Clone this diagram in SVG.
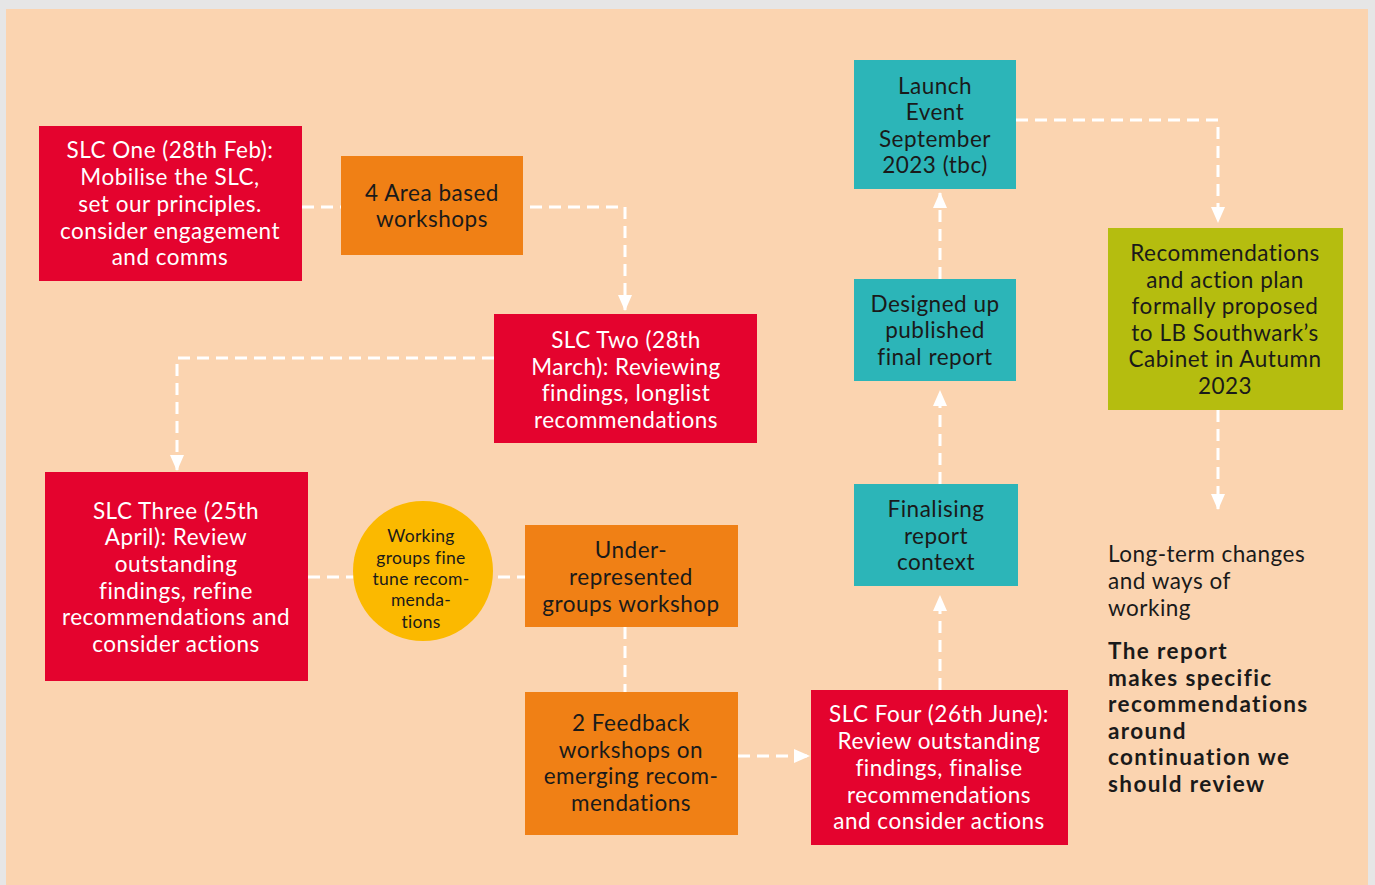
<svg xmlns="http://www.w3.org/2000/svg" width="1375" height="885" viewBox="0 0 1375 885">
<defs>
<style>
.t{font-family:Lato,"Open Sans","Liberation Sans",sans-serif;font-size:22.5px;text-anchor:middle;letter-spacing:0.5px}
.w{fill:#ffffff}
.d{fill:#1a1a1a}
.b{font-weight:bold;letter-spacing:1.4px}
.c{stroke:#ffffff;stroke-width:3;fill:none;stroke-dasharray:12 7}
.red{fill:#e4032e}
.org{fill:#f08015}
.teal{fill:#2cb5b8}
.olv{fill:#b5bd0f}
</style>
<marker id="ah" viewBox="0 0 16 14" refX="15" refY="7" markerWidth="16" markerHeight="14" markerUnits="userSpaceOnUse" orient="auto">
<path d="M0,0 L16,7 L0,14 Z" fill="#ffffff"/>
</marker>
</defs>
<rect x="0" y="0" width="1375" height="885" fill="#e6e6e6"/>
<rect x="6" y="9" width="1362" height="876" fill="#fbd4b0"/>
<g id="connectors">
<path class="c" d="M302,207 H625 V310" marker-end="url(#ah)"/>
<path class="c" d="M494,358 H177 V470" marker-end="url(#ah)"/>
<path class="c" d="M308,577 H525"/>
<path class="c" d="M625,627 V692"/>
<path class="c" d="M738,756 H809" marker-end="url(#ah)"/>
<path class="c" d="M940,690 V596" marker-end="url(#ah)"/>
<path class="c" d="M940,484 V391" marker-end="url(#ah)"/>
<path class="c" d="M940,279 V193" marker-end="url(#ah)"/>
<path class="c" d="M1016,120 H1218 V222" marker-end="url(#ah)"/>
<path class="c" d="M1218,410 V509" marker-end="url(#ah)"/>
</g>
<g id="slc1">
<rect class="red" x="39" y="126" width="263" height="155"/>
<text class="t w"><tspan x="170" y="158">SLC One (28th Feb):</tspan><tspan x="170" y="185">Mobilise the SLC,</tspan><tspan x="170" y="212">set our principles.</tspan><tspan x="170" y="239">consider engagement</tspan><tspan x="170" y="265">and comms</tspan></text>
</g>
<g id="area">
<rect class="org" x="341" y="156" width="182" height="99"/>
<text class="t d"><tspan x="432" y="201">4 Area based</tspan><tspan x="432" y="227">workshops</tspan></text>
</g>
<g id="slc2">
<rect class="red" x="494" y="314" width="263" height="129"/>
<text class="t w"><tspan x="626" y="348">SLC Two (28th</tspan><tspan x="626" y="375">March): Reviewing</tspan><tspan x="626" y="401">findings, longlist</tspan><tspan x="626" y="428">recommendations</tspan></text>
</g>
<g id="slc3">
<rect class="red" x="45" y="472" width="263" height="209"/>
<text class="t w"><tspan x="176" y="519">SLC Three (25th</tspan><tspan x="176" y="545">April): Review</tspan><tspan x="176" y="572">outstanding</tspan><tspan x="176" y="599">findings, refine</tspan><tspan x="176" y="625">recommendations and</tspan><tspan x="176" y="652">consider actions</tspan></text>
</g>
<g id="circle">
<circle cx="423" cy="571" r="70" fill="#fbb900"/>
<text class="t d" style="font-size:17.5px;letter-spacing:0.3px"><tspan x="421" y="542">Working</tspan><tspan x="421" y="564">groups fine</tspan><tspan x="421" y="585">tune recom-</tspan><tspan x="421" y="606">menda-</tspan><tspan x="421" y="628">tions</tspan></text>
</g>
<g id="under">
<rect class="org" x="525" y="525" width="213" height="102"/>
<text class="t d"><tspan x="631" y="558">Under-</tspan><tspan x="631" y="585">represented</tspan><tspan x="631" y="612">groups workshop</tspan></text>
</g>
<g id="feedback">
<rect class="org" x="525" y="692" width="213" height="143"/>
<text class="t d"><tspan x="631" y="731">2 Feedback</tspan><tspan x="631" y="758">workshops on</tspan><tspan x="631" y="784">emerging recom-</tspan><tspan x="631" y="811">mendations</tspan></text>
</g>
<g id="slc4">
<rect class="red" x="811" y="690" width="257" height="155"/>
<text class="t w"><tspan x="939" y="722">SLC Four (26th June):</tspan><tspan x="939" y="749">Review outstanding</tspan><tspan x="939" y="776">findings, finalise</tspan><tspan x="939" y="803">recommendations</tspan><tspan x="939" y="829">and consider actions</tspan></text>
</g>
<g id="finalising">
<rect class="teal" x="854" y="484" width="164" height="102"/>
<text class="t d"><tspan x="936" y="517">Finalising</tspan><tspan x="936" y="544">report</tspan><tspan x="936" y="570">context</tspan></text>
</g>
<g id="designed">
<rect class="teal" x="854" y="279" width="162" height="102"/>
<text class="t d"><tspan x="935" y="312">Designed up</tspan><tspan x="935" y="338">published</tspan><tspan x="935" y="365">final report</tspan></text>
</g>
<g id="launch">
<rect class="teal" x="854" y="60" width="162" height="129"/>
<text class="t d"><tspan x="935" y="94">Launch</tspan><tspan x="935" y="120">Event</tspan><tspan x="935" y="147">September</tspan><tspan x="935" y="173">2023 (tbc)</tspan></text>
</g>
<g id="recs">
<rect class="olv" x="1108" y="228" width="235" height="182"/>
<text class="t d"><tspan x="1225" y="261">Recommendations</tspan><tspan x="1225" y="288">and action plan</tspan><tspan x="1225" y="314">formally proposed</tspan><tspan x="1225" y="341">to LB Southwark’s</tspan><tspan x="1225" y="367">Cabinet in Autumn</tspan><tspan x="1225" y="394">2023</tspan></text>
</g>
<g id="longterm">
<text class="t d" style="text-anchor:start"><tspan x="1108" y="562">Long-term changes</tspan><tspan x="1108" y="589">and ways of</tspan><tspan x="1108" y="616">working</tspan></text>
<text class="t d b" style="text-anchor:start"><tspan x="1108" y="659">The report</tspan><tspan x="1108" y="686">makes specific</tspan><tspan x="1108" y="712">recommendations</tspan><tspan x="1108" y="739">around</tspan><tspan x="1108" y="765">continuation we</tspan><tspan x="1108" y="792">should review</tspan></text>
</g>
</svg>
